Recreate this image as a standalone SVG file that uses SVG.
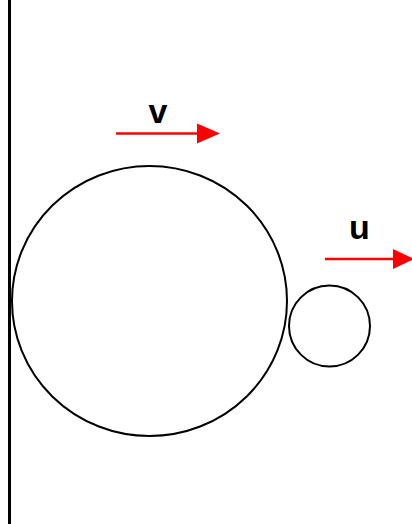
<svg xmlns="http://www.w3.org/2000/svg" width="412" height="524" viewBox="0 0 412 524">
<style>
.shape{fill:none;stroke:#000;stroke-width:2}
.arrow{stroke:#f00;stroke-width:2.5;fill:none}
.head{fill:#f00}
.lbl{font-family:"Liberation Sans",Arial,sans-serif;font-weight:bold;font-size:34px;fill:#000;text-anchor:middle}
</style>
<rect width="412" height="524" fill="#fff"/>
<g id="wall"><line x1="9.5" y1="0" x2="9.5" y2="524" stroke="#000" stroke-width="3"/></g>
<g id="big-circle"><ellipse class="shape" cx="149.5" cy="301" rx="137.5" ry="135"/></g>
<g id="small-circle"><circle class="shape" cx="329.5" cy="326" r="40.5"/></g>
<g id="connectors">
<g id="arrow-v"><line class="arrow" x1="116" y1="133.5" x2="200" y2="133.5"/><polygon class="head" points="197,123.5 220,133.5 197,143.5"/></g>
<g id="arrow-u"><line class="arrow" x1="325" y1="259" x2="396" y2="259"/><polygon class="head" points="393,249 414,259 393,269"/></g>
</g>
<g id="labels">
<text class="lbl" x="158" y="123">v</text>
<text class="lbl" x="359.5" y="239">u</text>
</g>
</svg>
